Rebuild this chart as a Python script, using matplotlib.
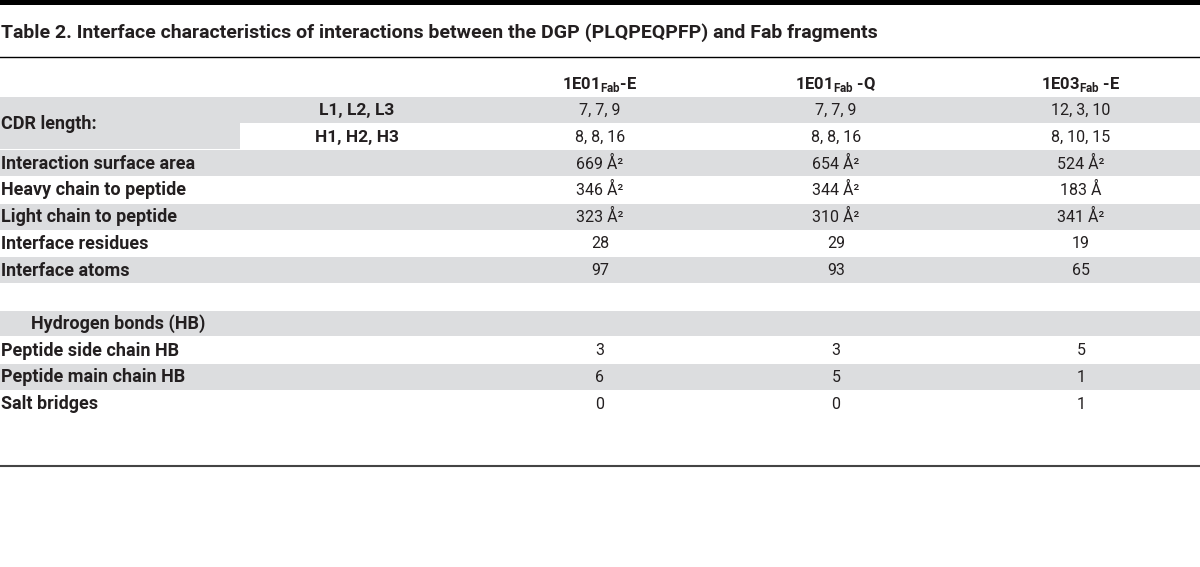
import matplotlib.pyplot as plt
from matplotlib.patches import Rectangle

plt.rcParams['font.family'] = ['Roboto', 'DejaVu Sans']
plt.rcParams['mathtext.fontset'] = 'custom'
plt.rcParams['mathtext.rm'] = 'Roboto'
plt.rcParams['mathtext.bf'] = 'Roboto:bold'

# table content
title = "Table 2. Interface characteristics of interactions between the DGP (PLQPEQPFP) and Fab fragments"
col_headers = [r"1E01$_{\mathbf{Fab}}$-E", r"1E01$_{\mathbf{Fab}}$ -Q", r"1E03$_{\mathbf{Fab}}$ -E"]
row_labels = ["", "", "Interaction surface area", "Heavy chain to peptide",
              "Light chain to peptide", "Interface residues", "Interface atoms", "",
              "Hydrogen bonds (HB)", "Peptide side chain HB", "Peptide main chain HB",
              "Salt bridges"]
cdr_label = "CDR length:"
cdr_sub = ["L1, L2, L3", "H1, H2, H3"]
col_e = ["7, 7, 9", "8, 8, 16", "669 Å²", "346 Å²", "323 Å²", "28", "97", "", "", "3", "6", "0"]
col_q = ["7, 7, 9", "8, 8, 16", "654 Å²", "344 Å²", "310 Å²", "29", "93", "", "", "3", "5", "0"]
col_e3 = ["12, 3, 10", "8, 10, 15", "524 Å²", "183 Å", "341 Å²", "19", "65", "", "", "5", "1", "1"]

W, H = 1200, 567
fig = plt.figure(figsize=(12, 5.67), dpi=100)
ax = fig.add_axes([0, 0, 1, 1])
ax.set_xlim(0, W)
ax.set_ylim(H, 0)
ax.axis('off')

txt = '#231f20'
gray = '#dcdddf'

# top bar and rules
ax.add_patch(Rectangle((0, 0), W, 4.5, color='black', lw=0))
ax.plot([0, W], [57, 57], color='black', lw=1.0)
ax.plot([0, W], [466, 466], color='#444444', lw=1.5)

ax.text(1, 33, title, fontsize=14, fontweight='bold', color=txt, va='center', ha='left')

col_x = [600, 836, 1081]
y0, rh = 97, 26.7
for x, h in zip(col_x, col_headers):
    ax.text(x, 84, h, fontsize=12, fontweight='bold', color=txt, va='center', ha='center')

for i in range(len(row_labels)):
    top = y0 + i * rh
    if i % 2 == 0:
        ax.add_patch(Rectangle((0, top), W, rh - 1, color=gray, lw=0))
    elif i == 1:
        ax.add_patch(Rectangle((0, top - 1), 240, rh, color=gray, lw=0))
    yc = top + rh / 2
    lab = row_labels[i]
    if lab:
        lx = 31 if lab.startswith("Hydrogen") else 1
        ax.text(lx, yc, lab, fontsize=13, fontweight='bold', color=txt, va='center', ha='left')
    if i < 2:
        ax.text(357, yc, cdr_sub[i], fontsize=12.5, fontweight='bold', color=txt,
                va='center', ha='center')
    for x, col in zip(col_x, [col_e, col_q, col_e3]):
        if col[i]:
            ax.text(x, yc, col[i], fontsize=11.5, color=txt, va='center', ha='center')

ax.text(1, y0 + rh, cdr_label, fontsize=13, fontweight='bold', color=txt, va='center', ha='left')

fig.savefig('out.png', dpi=100)
